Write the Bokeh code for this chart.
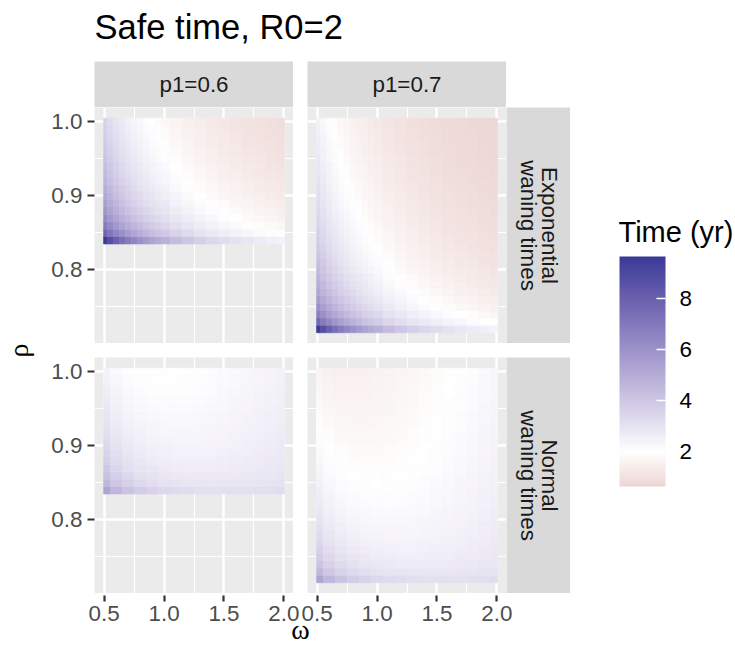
import math
from bokeh.plotting import figure
from bokeh.models import (Range1d, FixedTicker, Label, ColorBar, LinearColorMapper,
                          Spacer, ColumnDataSource, PrintfTickFormatter,
                          CustomJSTickFormatter, AllLabels)
from bokeh.layouts import row, column
from bokeh.embed import file_html
from bokeh.resources import INLINE

# ---------------- data ----------------
title_text = "Safe time, R0=2"
col_labels = ["p1=0.6", "p1=0.7"]
row_labels = [["Exponential", "waning times"], ["Normal", "waning times"]]
x_title = "\u03c9"
y_title = "\u03c1"
legend_title = "Time (yr)"

# omega columns read for the exponential panels (finer where colour changes fast)
omega_exp = [0.5, 0.55, 0.6, 0.65, 0.7, 0.75, 0.8, 0.85, 0.9, 0.95, 1.0, 1.1, 1.2, 1.3, 1.4,
             1.5, 1.6, 1.7, 1.8, 1.9, 2.0]
# omega columns read for the normal panels
omega_norm = [0.5, 0.6, 0.7, 0.8, 0.9, 1.0, 1.1, 1.2, 1.3, 1.4, 1.5, 1.6, 1.7, 1.8, 1.9, 2.0]
rho_p06 = [0.84, 0.85, 0.86, 0.87, 0.88, 0.89, 0.90, 0.91, 0.92, 0.93, 0.94, 0.95, 0.96, 0.97,
           0.98, 0.99, 1.00]
rho_p07 = [0.72, 0.73, 0.74, 0.75, 0.76, 0.77, 0.78, 0.79, 0.80, 0.81, 0.82, 0.83, 0.84, 0.85,
           0.86, 0.87, 0.88, 0.89, 0.90, 0.91, 0.92, 0.93, 0.94, 0.95, 0.96, 0.97, 0.98, 0.99, 1.00]

x_ticks = [0.5, 1.0, 1.5, 2.0]
x_minor = [0.75, 1.25, 1.75]
y_ticks = [0.8, 0.9, 1.0]
y_minor = [0.75, 0.85, 0.95]
legend_ticks = [2, 4, 6, 8]

# safe time (yr); rows follow rho ascending, columns follow omega_exp / omega_norm
time_exp_p06 = [
    [9.67, 8.79, 8.06, 7.44, 6.91, 6.45, 6.05, 5.69, 5.37, 5.09, 4.84, 4.40, 4.03, 3.72, 3.45, 3.22, 3.02, 2.84, 2.69, 2.55, 2.42],
    [7.86, 7.15, 6.55, 6.05, 5.62, 5.24, 4.92, 4.63, 4.37, 4.14, 3.93, 3.57, 3.28, 3.02, 2.81, 2.62, 2.46, 2.31, 2.18, 2.07, 1.97],
    [6.95, 6.32, 5.79, 5.34, 4.96, 4.63, 4.34, 4.09, 3.86, 3.66, 3.47, 3.16, 2.90, 2.67, 2.48, 2.32, 2.17, 2.04, 1.93, 1.83, 1.74],
    [6.33, 5.76, 5.28, 4.87, 4.52, 4.22, 3.96, 3.73, 3.52, 3.33, 3.17, 2.88, 2.64, 2.44, 2.26, 2.11, 1.98, 1.86, 1.76, 1.67, 1.58],
    [5.87, 5.34, 4.90, 4.52, 4.20, 3.92, 3.67, 3.46, 3.26, 3.09, 2.94, 2.67, 2.45, 2.26, 2.10, 1.96, 1.84, 1.73, 1.63, 1.55, 1.47],
    [5.51, 5.01, 4.59, 4.24, 3.93, 3.67, 3.44, 3.24, 3.06, 2.90, 2.75, 2.50, 2.30, 2.12, 1.97, 1.84, 1.72, 1.62, 1.53, 1.45, 1.38],
    [5.21, 4.73, 4.34, 4.00, 3.72, 3.47, 3.25, 3.06, 2.89, 2.74, 2.60, 2.37, 2.17, 2.00, 1.86, 1.74, 1.63, 1.53, 1.45, 1.37, 1.30],
    [4.95, 4.50, 4.12, 3.81, 3.53, 3.30, 3.09, 2.91, 2.75, 2.60, 2.47, 2.25, 2.06, 1.90, 1.77, 1.65, 1.55, 1.46, 1.37, 1.30, 1.24],
    [4.72, 4.29, 3.94, 3.63, 3.37, 3.15, 2.95, 2.78, 2.62, 2.49, 2.36, 2.15, 1.97, 1.82, 1.69, 1.57, 1.48, 1.39, 1.31, 1.24, 1.18],
    [4.53, 4.12, 3.77, 3.48, 3.23, 3.02, 2.83, 2.66, 2.52, 2.38, 2.26, 2.06, 1.89, 1.74, 1.62, 1.51, 1.42, 1.33, 1.26, 1.19, 1.13],
    [4.35, 3.96, 3.63, 3.35, 3.11, 2.90, 2.72, 2.56, 2.42, 2.29, 2.18, 1.98, 1.81, 1.67, 1.55, 1.45, 1.36, 1.28, 1.21, 1.15, 1.09],
    [4.19, 3.81, 3.50, 3.23, 3.00, 2.80, 2.62, 2.47, 2.33, 2.21, 2.10, 1.91, 1.75, 1.61, 1.50, 1.40, 1.31, 1.23, 1.17, 1.10, 1.05],
    [4.05, 3.68, 3.38, 3.12, 2.89, 2.70, 2.53, 2.38, 2.25, 2.13, 2.03, 1.84, 1.69, 1.56, 1.45, 1.35, 1.27, 1.19, 1.13, 1.07, 1.01],
    [3.92, 3.56, 3.27, 3.02, 2.80, 2.61, 2.45, 2.31, 2.18, 2.06, 1.96, 1.78, 1.63, 1.51, 1.40, 1.31, 1.23, 1.15, 1.09, 1.03, 0.98],
    [3.80, 3.45, 3.17, 2.92, 2.71, 2.53, 2.37, 2.23, 2.11, 2.00, 1.90, 1.73, 1.58, 1.46, 1.36, 1.27, 1.19, 1.12, 1.06, 1.00, 0.95],
    [3.69, 3.35, 3.07, 2.84, 2.63, 2.46, 2.31, 2.17, 2.05, 1.94, 1.84, 1.68, 1.54, 1.42, 1.32, 1.23, 1.15, 1.08, 1.02, 0.97, 0.92],
    [3.58, 3.26, 2.99, 2.76, 2.56, 2.39, 2.24, 2.11, 1.99, 1.89, 1.79, 1.63, 1.49, 1.38, 1.28, 1.19, 1.12, 1.05, 1.00, 0.94, 0.90],
]

time_exp_p07 = [
    [9.67, 8.79, 8.06, 7.44, 6.91, 6.45, 6.05, 5.69, 5.37, 5.09, 4.84, 4.40, 4.03, 3.72, 3.45, 3.22, 3.02, 2.84, 2.69, 2.55, 2.42],
    [7.68, 6.98, 6.40, 5.90, 5.48, 5.12, 4.80, 4.52, 4.26, 4.04, 3.84, 3.49, 3.20, 2.95, 2.74, 2.56, 2.40, 2.26, 2.13, 2.02, 1.92],
    [6.72, 6.11, 5.60, 5.17, 4.80, 4.48, 4.20, 3.95, 3.73, 3.54, 3.36, 3.05, 2.80, 2.58, 2.40, 2.24, 2.10, 1.98, 1.87, 1.77, 1.68],
    [6.09, 5.54, 5.08, 4.68, 4.35, 4.06, 3.81, 3.58, 3.38, 3.21, 3.05, 2.77, 2.54, 2.34, 2.18, 2.03, 1.90, 1.79, 1.69, 1.60, 1.52],
    [5.62, 5.11, 4.69, 4.32, 4.02, 3.75, 3.51, 3.31, 3.12, 2.96, 2.81, 2.56, 2.34, 2.16, 2.01, 1.87, 1.76, 1.65, 1.56, 1.48, 1.41],
    [5.25, 4.77, 4.38, 4.04, 3.75, 3.50, 3.28, 3.09, 2.92, 2.76, 2.63, 2.39, 2.19, 2.02, 1.88, 1.75, 1.64, 1.54, 1.46, 1.38, 1.31],
    [4.95, 4.50, 4.12, 3.81, 3.53, 3.30, 3.09, 2.91, 2.75, 2.60, 2.47, 2.25, 2.06, 1.90, 1.77, 1.65, 1.55, 1.46, 1.37, 1.30, 1.24],
    [4.69, 4.26, 3.91, 3.61, 3.35, 3.13, 2.93, 2.76, 2.61, 2.47, 2.35, 2.13, 1.95, 1.80, 1.68, 1.56, 1.47, 1.38, 1.30, 1.23, 1.17],
    [4.47, 4.06, 3.72, 3.44, 3.19, 2.98, 2.79, 2.63, 2.48, 2.35, 2.23, 2.03, 1.86, 1.72, 1.60, 1.49, 1.40, 1.31, 1.24, 1.18, 1.12],
    [4.27, 3.88, 3.56, 3.29, 3.05, 2.85, 2.67, 2.51, 2.37, 2.25, 2.14, 1.94, 1.78, 1.64, 1.53, 1.42, 1.34, 1.26, 1.19, 1.12, 1.07],
    [4.10, 3.73, 3.42, 3.15, 2.93, 2.73, 2.56, 2.41, 2.28, 2.16, 2.05, 1.86, 1.71, 1.58, 1.46, 1.37, 1.28, 1.21, 1.14, 1.08, 1.02],
    [3.94, 3.58, 3.28, 3.03, 2.81, 2.63, 2.46, 2.32, 2.19, 2.07, 1.97, 1.79, 1.64, 1.52, 1.41, 1.31, 1.23, 1.16, 1.09, 1.04, 0.99],
    [3.80, 3.45, 3.17, 2.92, 2.71, 2.53, 2.37, 2.23, 2.11, 2.00, 1.90, 1.73, 1.58, 1.46, 1.36, 1.27, 1.19, 1.12, 1.06, 1.00, 0.95],
    [3.67, 3.34, 3.06, 2.82, 2.62, 2.45, 2.29, 2.16, 2.04, 1.93, 1.84, 1.67, 1.53, 1.41, 1.31, 1.22, 1.15, 1.08, 1.02, 0.97, 0.92],
    [3.55, 3.23, 2.96, 2.73, 2.54, 2.37, 2.22, 2.09, 1.97, 1.87, 1.78, 1.61, 1.48, 1.37, 1.27, 1.18, 1.11, 1.04, 0.99, 0.93, 0.89],
    [3.44, 3.13, 2.87, 2.65, 2.46, 2.29, 2.15, 2.02, 1.91, 1.81, 1.72, 1.56, 1.43, 1.32, 1.23, 1.15, 1.08, 1.01, 0.96, 0.91, 0.86],
    [3.34, 3.04, 2.78, 2.57, 2.39, 2.23, 2.09, 1.96, 1.86, 1.76, 1.67, 1.52, 1.39, 1.28, 1.19, 1.11, 1.04, 0.98, 0.93, 0.88, 0.84],
    [3.24, 2.95, 2.70, 2.50, 2.32, 2.16, 2.03, 1.91, 1.80, 1.71, 1.62, 1.47, 1.35, 1.25, 1.16, 1.08, 1.01, 0.95, 0.90, 0.85, 0.81],
    [3.16, 2.87, 2.63, 2.43, 2.25, 2.10, 1.97, 1.86, 1.75, 1.66, 1.58, 1.43, 1.32, 1.21, 1.13, 1.05, 0.99, 0.93, 0.88, 0.83, 0.79],
    [3.07, 2.79, 2.56, 2.36, 2.20, 2.05, 1.92, 1.81, 1.71, 1.62, 1.54, 1.40, 1.28, 1.18, 1.10, 1.02, 0.96, 0.90, 0.85, 0.81, 0.77],
    [3.00, 2.72, 2.50, 2.30, 2.14, 2.00, 1.87, 1.76, 1.66, 1.58, 1.50, 1.36, 1.25, 1.15, 1.07, 1.00, 0.94, 0.88, 0.83, 0.79, 0.75],
    [2.92, 2.66, 2.44, 2.25, 2.09, 1.95, 1.83, 1.72, 1.62, 1.54, 1.46, 1.33, 1.22, 1.12, 1.04, 0.97, 0.91, 0.86, 0.81, 0.77, 0.73],
    [2.85, 2.59, 2.38, 2.20, 2.04, 1.90, 1.78, 1.68, 1.59, 1.50, 1.43, 1.30, 1.19, 1.10, 1.02, 0.95, 0.89, 0.84, 0.79, 0.75, 0.71],
    [2.79, 2.53, 2.32, 2.14, 1.99, 1.86, 1.74, 1.64, 1.55, 1.47, 1.39, 1.27, 1.16, 1.07, 1.00, 0.93, 0.87, 0.82, 0.77, 0.73, 0.70],
    [2.73, 2.48, 2.27, 2.10, 1.95, 1.82, 1.70, 1.60, 1.51, 1.43, 1.36, 1.24, 1.14, 1.05, 0.97, 0.91, 0.85, 0.80, 0.76, 0.72, 0.68],
    [2.67, 2.42, 2.22, 2.05, 1.90, 1.78, 1.67, 1.57, 1.48, 1.40, 1.33, 1.21, 1.11, 1.03, 0.95, 0.89, 0.83, 0.78, 0.74, 0.70, 0.67],
    [2.61, 2.37, 2.18, 2.01, 1.86, 1.74, 1.63, 1.54, 1.45, 1.37, 1.31, 1.19, 1.09, 1.00, 0.93, 0.87, 0.82, 0.77, 0.73, 0.69, 0.65],
    [2.56, 2.32, 2.13, 1.97, 1.83, 1.70, 1.60, 1.50, 1.42, 1.35, 1.28, 1.16, 1.07, 0.98, 0.91, 0.85, 0.80, 0.75, 0.71, 0.67, 0.64],
    [2.51, 2.28, 2.09, 1.93, 1.79, 1.67, 1.57, 1.47, 1.39, 1.32, 1.25, 1.14, 1.04, 0.96, 0.90, 0.84, 0.78, 0.74, 0.70, 0.66, 0.63],
]

time_norm_p06 = [
    [5.32, 4.62, 4.14, 3.81, 3.58, 3.41, 3.29, 3.21, 3.15, 3.12, 3.11, 3.11, 3.12, 3.14, 3.17, 3.21],
    [4.62, 4.04, 3.65, 3.38, 3.19, 3.06, 2.97, 2.92, 2.89, 2.87, 2.87, 2.89, 2.91, 2.95, 2.99, 3.03],
    [4.23, 3.71, 3.37, 3.13, 2.97, 2.87, 2.80, 2.76, 2.74, 2.73, 2.74, 2.77, 2.80, 2.84, 2.88, 2.93],
    [3.95, 3.48, 3.17, 2.96, 2.82, 2.73, 2.67, 2.64, 2.63, 2.63, 2.65, 2.68, 2.72, 2.76, 2.81, 2.86],
    [3.73, 3.29, 3.01, 2.82, 2.70, 2.62, 2.57, 2.55, 2.54, 2.55, 2.58, 2.61, 2.65, 2.70, 2.75, 2.81],
    [3.55, 3.14, 2.88, 2.71, 2.59, 2.53, 2.49, 2.47, 2.47, 2.49, 2.52, 2.55, 2.60, 2.65, 2.70, 2.76],
    [3.39, 3.01, 2.77, 2.61, 2.51, 2.45, 2.41, 2.41, 2.41, 2.43, 2.46, 2.50, 2.55, 2.60, 2.66, 2.72],
    [3.25, 2.90, 2.67, 2.52, 2.43, 2.38, 2.35, 2.35, 2.36, 2.38, 2.42, 2.46, 2.51, 2.57, 2.62, 2.69],
    [3.13, 2.79, 2.58, 2.44, 2.36, 2.32, 2.30, 2.30, 2.31, 2.34, 2.38, 2.42, 2.47, 2.53, 2.59, 2.66],
    [3.02, 2.70, 2.50, 2.37, 2.30, 2.26, 2.24, 2.25, 2.27, 2.30, 2.34, 2.39, 2.44, 2.50, 2.56, 2.63],
    [2.92, 2.62, 2.43, 2.31, 2.24, 2.21, 2.20, 2.21, 2.23, 2.26, 2.31, 2.36, 2.41, 2.47, 2.54, 2.60],
    [2.82, 2.54, 2.36, 2.25, 2.19, 2.16, 2.16, 2.17, 2.19, 2.23, 2.27, 2.33, 2.38, 2.45, 2.51, 2.58],
    [2.73, 2.46, 2.30, 2.20, 2.14, 2.12, 2.12, 2.13, 2.16, 2.20, 2.25, 2.30, 2.36, 2.42, 2.49, 2.56],
    [2.65, 2.40, 2.24, 2.15, 2.10, 2.08, 2.08, 2.10, 2.13, 2.17, 2.22, 2.27, 2.33, 2.40, 2.47, 2.54],
    [2.58, 2.33, 2.18, 2.10, 2.05, 2.04, 2.04, 2.07, 2.10, 2.14, 2.19, 2.25, 2.31, 2.38, 2.45, 2.52],
    [2.50, 2.27, 2.13, 2.05, 2.01, 2.00, 2.01, 2.04, 2.07, 2.12, 2.17, 2.23, 2.29, 2.36, 2.43, 2.50],
    [2.43, 2.21, 2.08, 2.01, 1.97, 1.97, 1.98, 2.01, 2.04, 2.09, 2.15, 2.20, 2.27, 2.34, 2.41, 2.48],
]

time_norm_p07 = [
    [5.32, 4.62, 4.14, 3.81, 3.58, 3.41, 3.29, 3.21, 3.15, 3.12, 3.11, 3.11, 3.12, 3.14, 3.17, 3.21],
    [4.55, 3.97, 3.59, 3.33, 3.15, 3.02, 2.94, 2.89, 2.86, 2.85, 2.85, 2.86, 2.89, 2.92, 2.97, 3.01],
    [4.13, 3.63, 3.29, 3.07, 2.92, 2.82, 2.75, 2.71, 2.70, 2.70, 2.71, 2.73, 2.77, 2.81, 2.86, 2.91],
    [3.84, 3.38, 3.08, 2.89, 2.75, 2.67, 2.62, 2.59, 2.58, 2.59, 2.61, 2.64, 2.68, 2.73, 2.78, 2.83],
    [3.61, 3.19, 2.92, 2.74, 2.63, 2.55, 2.51, 2.50, 2.50, 2.51, 2.54, 2.57, 2.61, 2.66, 2.72, 2.78],
    [3.42, 3.03, 2.78, 2.62, 2.52, 2.46, 2.43, 2.42, 2.42, 2.44, 2.47, 2.51, 2.56, 2.61, 2.67, 2.73],
    [3.25, 2.90, 2.67, 2.52, 2.43, 2.38, 2.35, 2.35, 2.36, 2.38, 2.42, 2.46, 2.51, 2.57, 2.62, 2.69],
    [3.11, 2.78, 2.57, 2.43, 2.35, 2.31, 2.29, 2.29, 2.31, 2.33, 2.37, 2.42, 2.47, 2.53, 2.59, 2.65],
    [2.98, 2.67, 2.47, 2.35, 2.28, 2.24, 2.23, 2.24, 2.26, 2.29, 2.33, 2.38, 2.43, 2.49, 2.55, 2.62],
    [2.87, 2.57, 2.39, 2.28, 2.22, 2.18, 2.18, 2.19, 2.21, 2.25, 2.29, 2.34, 2.40, 2.46, 2.52, 2.59],
    [2.76, 2.49, 2.32, 2.21, 2.16, 2.13, 2.13, 2.14, 2.17, 2.21, 2.25, 2.31, 2.37, 2.43, 2.50, 2.57],
    [2.67, 2.41, 2.25, 2.15, 2.10, 2.08, 2.09, 2.10, 2.13, 2.17, 2.22, 2.28, 2.34, 2.40, 2.47, 2.54],
    [2.58, 2.33, 2.18, 2.10, 2.05, 2.04, 2.04, 2.07, 2.10, 2.14, 2.19, 2.25, 2.31, 2.38, 2.45, 2.52],
    [2.49, 2.26, 2.12, 2.05, 2.01, 2.00, 2.01, 2.03, 2.07, 2.11, 2.16, 2.22, 2.29, 2.35, 2.42, 2.50],
    [2.41, 2.19, 2.07, 2.00, 1.96, 1.96, 1.97, 2.00, 2.04, 2.08, 2.14, 2.20, 2.26, 2.33, 2.40, 2.48],
    [2.34, 2.13, 2.01, 1.95, 1.92, 1.92, 1.94, 1.97, 2.01, 2.06, 2.11, 2.17, 2.24, 2.31, 2.38, 2.46],
    [2.27, 2.07, 1.96, 1.91, 1.88, 1.88, 1.90, 1.94, 1.98, 2.03, 2.09, 2.15, 2.22, 2.29, 2.37, 2.44],
    [2.20, 2.02, 1.92, 1.86, 1.85, 1.85, 1.87, 1.91, 1.95, 2.01, 2.07, 2.13, 2.20, 2.27, 2.35, 2.43],
    [2.14, 1.97, 1.87, 1.82, 1.81, 1.82, 1.85, 1.88, 1.93, 1.99, 2.05, 2.11, 2.18, 2.26, 2.33, 2.41],
    [2.08, 1.92, 1.83, 1.79, 1.78, 1.79, 1.82, 1.86, 1.91, 1.96, 2.03, 2.09, 2.16, 2.24, 2.32, 2.40],
    [2.02, 1.87, 1.79, 1.75, 1.74, 1.76, 1.79, 1.83, 1.89, 1.94, 2.01, 2.08, 2.15, 2.22, 2.30, 2.38],
    [1.96, 1.82, 1.75, 1.72, 1.71, 1.73, 1.77, 1.81, 1.86, 1.92, 1.99, 2.06, 2.13, 2.21, 2.29, 2.37],
    [1.91, 1.78, 1.71, 1.68, 1.68, 1.71, 1.74, 1.79, 1.84, 1.90, 1.97, 2.04, 2.12, 2.19, 2.27, 2.35],
    [1.86, 1.73, 1.67, 1.65, 1.66, 1.68, 1.72, 1.77, 1.82, 1.89, 1.95, 2.03, 2.10, 2.18, 2.26, 2.34],
    [1.81, 1.69, 1.64, 1.62, 1.63, 1.66, 1.70, 1.75, 1.80, 1.87, 1.94, 2.01, 2.09, 2.16, 2.25, 2.33],
    [1.76, 1.65, 1.60, 1.59, 1.60, 1.63, 1.68, 1.73, 1.79, 1.85, 1.92, 2.00, 2.07, 2.15, 2.23, 2.32],
    [1.72, 1.62, 1.57, 1.56, 1.58, 1.61, 1.65, 1.71, 1.77, 1.84, 1.91, 1.98, 2.06, 2.14, 2.22, 2.30],
    [1.67, 1.58, 1.54, 1.53, 1.55, 1.59, 1.63, 1.69, 1.75, 1.82, 1.89, 1.97, 2.05, 2.13, 2.21, 2.29],
    [1.63, 1.54, 1.51, 1.51, 1.53, 1.57, 1.62, 1.67, 1.74, 1.80, 1.88, 1.95, 2.03, 2.11, 2.20, 2.28],
]

# ---------------- colour scale (gradient2 in CIELAB) ----------------
LOW_COL, MID_COL, HIGH_COL = "#832424", "#FFFFFF", "#3A3A98"
MIDPOINT = 2.0


def _lin(c):
    c = c / 255.0
    return c / 12.92 if c <= 0.04045 else ((c + 0.055) / 1.055) ** 2.4


def _gam(c):
    c = 12.92 * c if c <= 0.0031308 else 1.055 * c ** (1 / 2.4) - 0.055
    return max(0, min(255, int(round(c * 255))))


def hex2lab(h):
    r, g, b = (_lin(int(h[i:i + 2], 16)) for i in (1, 3, 5))
    X = (0.4124564 * r + 0.3575761 * g + 0.1804375 * b) / 0.95047
    Y = (0.2126729 * r + 0.7151522 * g + 0.0721750 * b)
    Z = (0.0193339 * r + 0.1191920 * g + 0.9503041 * b) / 1.08883
    d = 6 / 29
    f = lambda t: t ** (1 / 3) if t > d ** 3 else t / (3 * d * d) + 4 / 29
    return (116 * f(Y) - 16, 500 * (f(X) - f(Y)), 200 * (f(Y) - f(Z)))


def lab2hex(L, a, b):
    d = 6 / 29
    fy = (L + 16) / 116
    fx, fz = fy + a / 500, fy - b / 200
    fi = lambda t: t ** 3 if t > d else 3 * d * d * (t - 4 / 29)
    X, Y, Z = fi(fx) * 0.95047, fi(fy), fi(fz) * 1.08883
    r = 3.2404542 * X - 1.5371385 * Y - 0.4985314 * Z
    g = -0.9692660 * X + 1.8760108 * Y + 0.0415560 * Z
    bb = 0.0556434 * X - 0.2040259 * Y + 1.0572252 * Z
    return "#%02x%02x%02x" % (_gam(r), _gam(g), _gam(bb))


all_vals = [v for tab in (time_exp_p06, time_exp_p07, time_norm_p06, time_norm_p07)
            for rr in tab for v in rr]
v_lo, v_hi = min(all_vals), max(all_vals)
lab_lo, lab_mid, lab_hi = hex2lab(LOW_COL), hex2lab(MID_COL), hex2lab(HIGH_COL)
maxd = max(v_hi - MIDPOINT, MIDPOINT - v_lo)
N = 256
palette = []
for k in range(N):
    v = v_lo + (k + 0.5) * (v_hi - v_lo) / N
    p = (v - MIDPOINT) / maxd / 2 + 0.5
    if p >= 0.5:
        t = (p - 0.5) * 2
        lab = [m + t * (h - m) for m, h in zip(lab_mid, lab_hi)]
    else:
        t = (0.5 - p) * 2
        lab = [m + t * (l - m) for m, l in zip(lab_mid, lab_lo)]
    palette.append(lab2hex(*lab))
mapper = LinearColorMapper(palette=palette, low=v_lo, high=v_hi)

# ---------------- geometry / style ----------------
FONT = "Liberation Sans"
SERIF = "Liberation Serif"
FW, FH = 199, 236          # panel frame size
RHO_W = 40
LB = 54                    # left border (y axis)
GAP = 14                   # panel spacing
STRIP_H = 46
STRIP_W = 64
TITLE_H = 61
XAX_H = 651 - TITLE_H - STRIP_H - FH - GAP - FH   # shared bottom band (ticks + omega)
LEG_W = 735 - RHO_W - LB - FW - GAP - FW - STRIP_W
raster_edge = 0.005

dy = rho_p07[1] - rho_p07[0]
x_lo_d, x_hi_d = omega_norm[0] - raster_edge, omega_norm[-1] + raster_edge
y_lo_d = min(rho_p06[0], rho_p07[0]) - dy / 2
y_hi_d = max(rho_p06[-1], rho_p07[-1]) + dy / 2
xpad = 0.05 * (x_hi_d - x_lo_d)
ypad = 0.05 * (y_hi_d - y_lo_d)
XR = (x_lo_d - xpad, x_hi_d + xpad)
YR = (y_lo_d - ypad, y_hi_d + ypad)


def blank_fig(w, h, bg="white"):
    p = figure(width=w, height=h, x_range=Range1d(0, w), y_range=Range1d(0, h),
               x_axis_location=None, y_axis_location=None, toolbar_location=None,
               output_backend="svg", title=None, min_border=0)
    p.background_fill_color = bg
    p.border_fill_color = bg
    p.outline_line_color = None
    p.grid.visible = False
    return p


def style_axis(ax):
    ax.major_label_text_font = FONT
    ax.major_label_text_font_size = "22.4px"
    ax.major_label_text_color = "#4D4D4D"
    ax.major_tick_out = 7
    ax.major_tick_in = 0
    ax.major_tick_line_color = "#333333"
    ax.major_tick_line_width = 2.2
    ax.minor_tick_line_color = None
    ax.axis_line_color = None


def panel_fig(vals, omegas, rhos, show_y, left_border):
    p = figure(width=left_border + FW, height=FH,
               x_range=Range1d(*XR), y_range=Range1d(*YR),
               x_axis_location=None,
               y_axis_location="left" if show_y else None,
               toolbar_location=None, output_backend="svg", title=None,
               min_border_left=left_border, min_border_right=0, min_border_top=0,
               min_border_bottom=0)
    p.background_fill_color = "#EBEBEB"
    p.border_fill_color = "white"
    p.outline_line_color = None
    p.xgrid.ticker = FixedTicker(ticks=x_ticks, minor_ticks=x_minor)
    p.ygrid.ticker = FixedTicker(ticks=y_ticks, minor_ticks=y_minor)
    p.grid.grid_line_color = "white"
    p.grid.grid_line_width = 2.4
    p.grid.minor_grid_line_color = "white"
    p.grid.minor_grid_line_width = 1.2
    n = len(omegas)
    edges = [x_lo_d] + [(omegas[j] + omegas[j + 1]) / 2 for j in range(n - 1)] + [x_hi_d]
    L, R, B, T, V = [], [], [], [], []
    for i, r in enumerate(rhos):
        for j in range(n):
            L.append(edges[j])
            R.append(edges[j + 1])
            B.append(r - dy / 2)
            T.append(r + dy / 2)
            V.append(vals[i][j])
    src = ColumnDataSource(dict(left=L, right=R, bottom=B, top=T, t=V))
    p.quad(left="left", right="right", bottom="bottom", top="top", source=src,
           fill_color={"field": "t", "transform": mapper},
           line_color={"field": "t", "transform": mapper}, line_width=0.6)
    if show_y:
        ax = p.yaxis[0]
        ax.ticker = FixedTicker(ticks=y_ticks)
        style_axis(ax)
        ax.formatter = PrintfTickFormatter(format="%.1f")
        ax.major_label_standoff = 5
    return p


def top_strip(text):
    p = blank_fig(FW, STRIP_H, "#D9D9D9")
    p.add_layout(Label(x=FW / 2, y=STRIP_H / 2, text=text, text_align="center",
                       text_baseline="middle", text_font=FONT, text_font_size="22.4px",
                       text_color="#1A1A1A"))
    return p


def right_strip(lines):
    p = blank_fig(STRIP_W, FH, "#D9D9D9")
    n = len(lines)
    step = 21
    for k, t in enumerate(lines):
        xx = STRIP_W / 2 + (n - 1) / 2 * step - k * step
        p.add_layout(Label(x=xx, y=FH / 2, text=t, angle=-math.pi / 2, text_align="center",
                           text_baseline="middle", text_font=FONT, text_font_size="22.4px",
                           text_color="#1A1A1A"))
    return p


fig_tl = panel_fig(time_exp_p06, omega_exp, rho_p06, True, LB)
fig_tr = panel_fig(time_exp_p07, omega_exp, rho_p07, False, GAP)
fig_bl = panel_fig(time_norm_p06, omega_norm, rho_p06, True, LB)
fig_br = panel_fig(time_norm_p07, omega_norm, rho_p07, False, GAP)

# shared x axis for both bottom panels: the right panel's omega scale is the left one
# shifted by one panel width plus the spacing
span = XR[1] - XR[0]
shift = span * (FW + GAP) / FW
fig_xax = figure(width=LB + FW + GAP + FW + STRIP_W, height=XAX_H,
                 x_range=Range1d(XR[0], XR[0] + span * (2 * FW + GAP) / FW),
                 y_range=Range1d(0, 1), x_axis_location="below", y_axis_location=None,
                 toolbar_location=None, output_backend="svg", title=None,
                 min_border_left=LB, min_border_right=STRIP_W, min_border_top=0,
                 min_border_bottom=XAX_H - 2)
fig_xax.background_fill_color = "white"
fig_xax.border_fill_color = "white"
fig_xax.outline_line_color = None
fig_xax.grid.visible = False
xax = fig_xax.xaxis[0]
xax.ticker = FixedTicker(ticks=x_ticks + [t + shift for t in x_ticks])
xax.formatter = CustomJSTickFormatter(args=dict(cut=XR[1], shift=shift),
                                      code="return (tick > cut ? tick - shift : tick).toFixed(1);")
xax.major_label_policy = AllLabels()
style_axis(xax)
xax.major_tick_out = 6
xax.major_label_standoff = 4
xax.axis_label = x_title
xax.axis_label_text_font = SERIF
xax.axis_label_text_font_size = "28px"
xax.axis_label_text_font_style = "normal"
xax.axis_label_text_color = "black"
xax.axis_label_standoff = -10

mid_w = LB + FW + GAP + FW + STRIP_W
strip_row = row(Spacer(width=LB, height=STRIP_H), top_strip(col_labels[0]),
                Spacer(width=GAP, height=STRIP_H), top_strip(col_labels[1]),
                Spacer(width=STRIP_W, height=STRIP_H))
row1 = row(fig_tl, fig_tr, right_strip(row_labels[0]))
row2 = row(fig_bl, fig_br, right_strip(row_labels[1]))
middle = column(strip_row, row1, Spacer(width=mid_w, height=GAP), row2, fig_xax)

body_h = 651 - TITLE_H
fig_rho = blank_fig(RHO_W, body_h)
fig_rho.add_layout(Label(x=18, y=body_h - (STRIP_H + (2 * FH + GAP) / 2), text=y_title,
                         angle=math.pi / 2, text_align="center", text_baseline="middle",
                         text_font=SERIF, text_font_size="28px", text_color="black"))

fig_leg = blank_fig(LEG_W, body_h)
cb = ColorBar(color_mapper=mapper, ticker=FixedTicker(ticks=legend_ticks), width=46, height=230,
              location=(49, 165), padding=0, title=None,
              major_label_text_font=FONT, major_label_text_font_size="22.4px",
              major_label_text_color="black", label_standoff=14,
              major_tick_in=9, major_tick_out=0, major_tick_line_color="white",
              major_tick_line_width=1.3, minor_tick_line_color=None, bar_line_color=None,
              border_line_color=None, background_fill_color=None)
fig_leg.add_layout(cb)
fig_leg.add_layout(Label(x=48, y=651 - 231, text=legend_title, text_align="left",
                         text_baseline="middle", text_font=FONT, text_font_size="29px",
                         text_color="black"))

fig_title = blank_fig(735, TITLE_H)
fig_title.add_layout(Label(x=RHO_W + LB, y=TITLE_H - 26, text=title_text, text_align="left",
                           text_baseline="middle", text_font=FONT, text_font_size="34.5px",
                           text_color="black"))

layout = column(fig_title, row(fig_rho, middle, fig_leg))

open("out.html", "w").write(file_html(layout, INLINE))
